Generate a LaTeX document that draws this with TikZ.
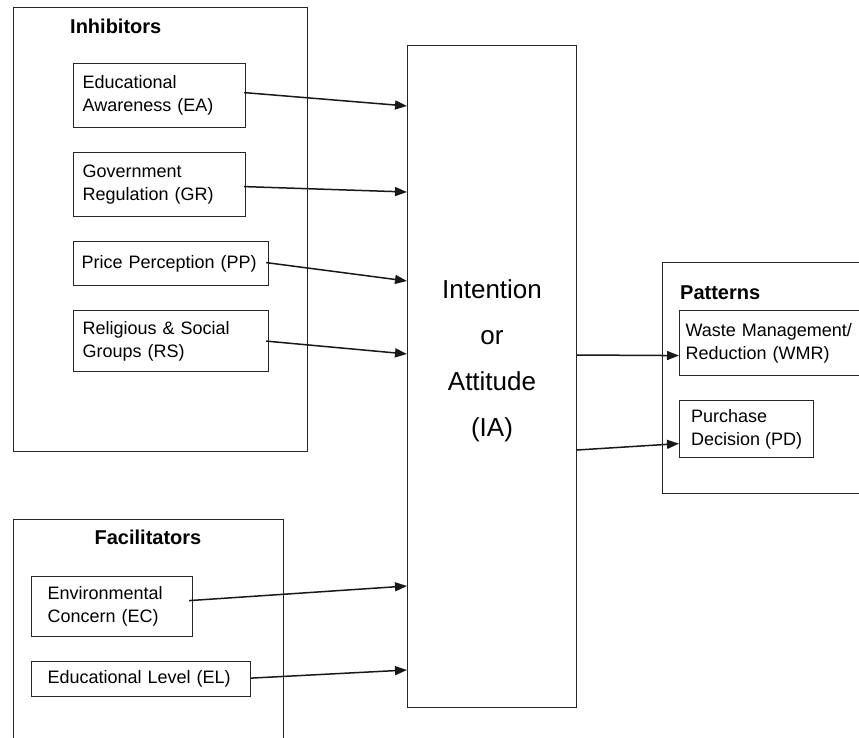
\documentclass[tikz,border=0pt]{standalone}
\usepackage{fontspec}
\setmainfont{Liberation Sans}
\usetikzlibrary{arrows.meta,positioning,calc}

\tikzset{
  frame/.style={draw=black!85, line width=1.2pt, inner sep=0pt},
  factor/.style={draw=black!85, line width=1.2pt, anchor=north west, align=left,
    inner ysep=0pt, font=\fontsize{18}{23}\selectfont},
  heading/.style={font=\fontsize{20}{24}\selectfont\bfseries, inner sep=0pt, anchor=base west},
  link/.style={line width=1.5pt, draw=black!90, -{Triangle[length=12pt,width=9pt]}}
}

\begin{document}
\begin{tikzpicture}[x=1pt,y=-1pt]
			\useasboundingbox (0,0) rectangle (859,738);
			
			% Inhibitors
			\node[frame, anchor=north west, minimum width=294pt, minimum height=444pt] (inhib) at (13,7) {};
			\node[heading] (inhibtitle) at (70,34) {Inhibitors};
			\node[factor, inner xsep=9pt, text width=154pt, minimum height=64pt] (ea) at (73,63) {Educational\\Awareness (EA)};
			\node[factor, inner xsep=9pt, text width=154pt, minimum height=64pt] (gr) at (73,152) {Government\\Regulation (GR)};
			\node[factor, inner xsep=8pt, text width=179pt, minimum height=44pt] (pp) at (73,241) {Price Perception (PP)};
			\node[factor, inner xsep=9pt, text width=177pt, minimum height=61pt] (rs) at (73,310) {Religious \& Social\\Groups (RS)};
			
			% Facilitators
			\node[frame, anchor=north west, minimum width=270pt, minimum height=260pt] (facil) at (13,519) {};
			\node[heading, anchor=base] (faciltitle) at (148,544) {Facilitators};
			\node[factor, inner xsep=16pt, text width=129pt, minimum height=60pt] (ec) at (31,576) {Environmental\\Concern (EC)};
			\node[factor, inner xsep=16pt, text width=187pt, minimum height=35pt] (el) at (31,661) {Educational Level (EL)};
			
			% Intention or Attitude
			\node[frame, anchor=north west, minimum width=169pt, minimum height=662pt] (ia) at (407,45) {};
			\node[align=center, inner sep=0pt, font=\fontsize{26}{46}\selectfont] (iatext) at (492,361) {Intention\\or\\Attitude\\(IA)};
			
			% Patterns
			\node[frame, anchor=north west, minimum width=220pt, minimum height=231pt] (patt) at (662,262) {};
			\node[heading] (patttitle) at (680,299) {Patterns};
			\node[factor, inner xsep=6pt, text width=189pt, minimum height=65pt] (wmr) at (679,310) {Waste Management/\\Reduction (WMR)};
			\node[factor, inner xsep=11.5pt, minimum height=57pt] (pd) at (679,400) {Purchase\\Decision (PD)};
			
			% links into IA
			\draw[link] ($(ea.east)+(-2,-3)$) -- ($(ia.north west)+(0,61)$);
			\draw[link] ($(gr.east)+(-2,2)$) -- ($(ia.north west)+(0,147)$);
			\draw[link] ($(pp.east)+(-3,-1)$) -- ($(ia.north west)+(0,236)$);
			\draw[link] ($(rs.east)+(-3,0)$) -- ($(ia.north west)+(0,309)$);
			\draw[link] ($(ec.east)+(-4,-6)$) -- ($(ia.north west)+(0,541)$);
			\draw[link] ($(el.east)+(0,-1)$) -- ($(ia.north west)+(0,625)$);
			
			% links out of IA
			\draw[link] ($(ia.north east)+(0,310)$) -- ($(wmr.west)+(0,12.5)$);
			\draw[link] ($(ia.north east)+(0,405)$) -- ($(pd.west)+(0,14.5)$);
		\end{tikzpicture}
\end{document}
